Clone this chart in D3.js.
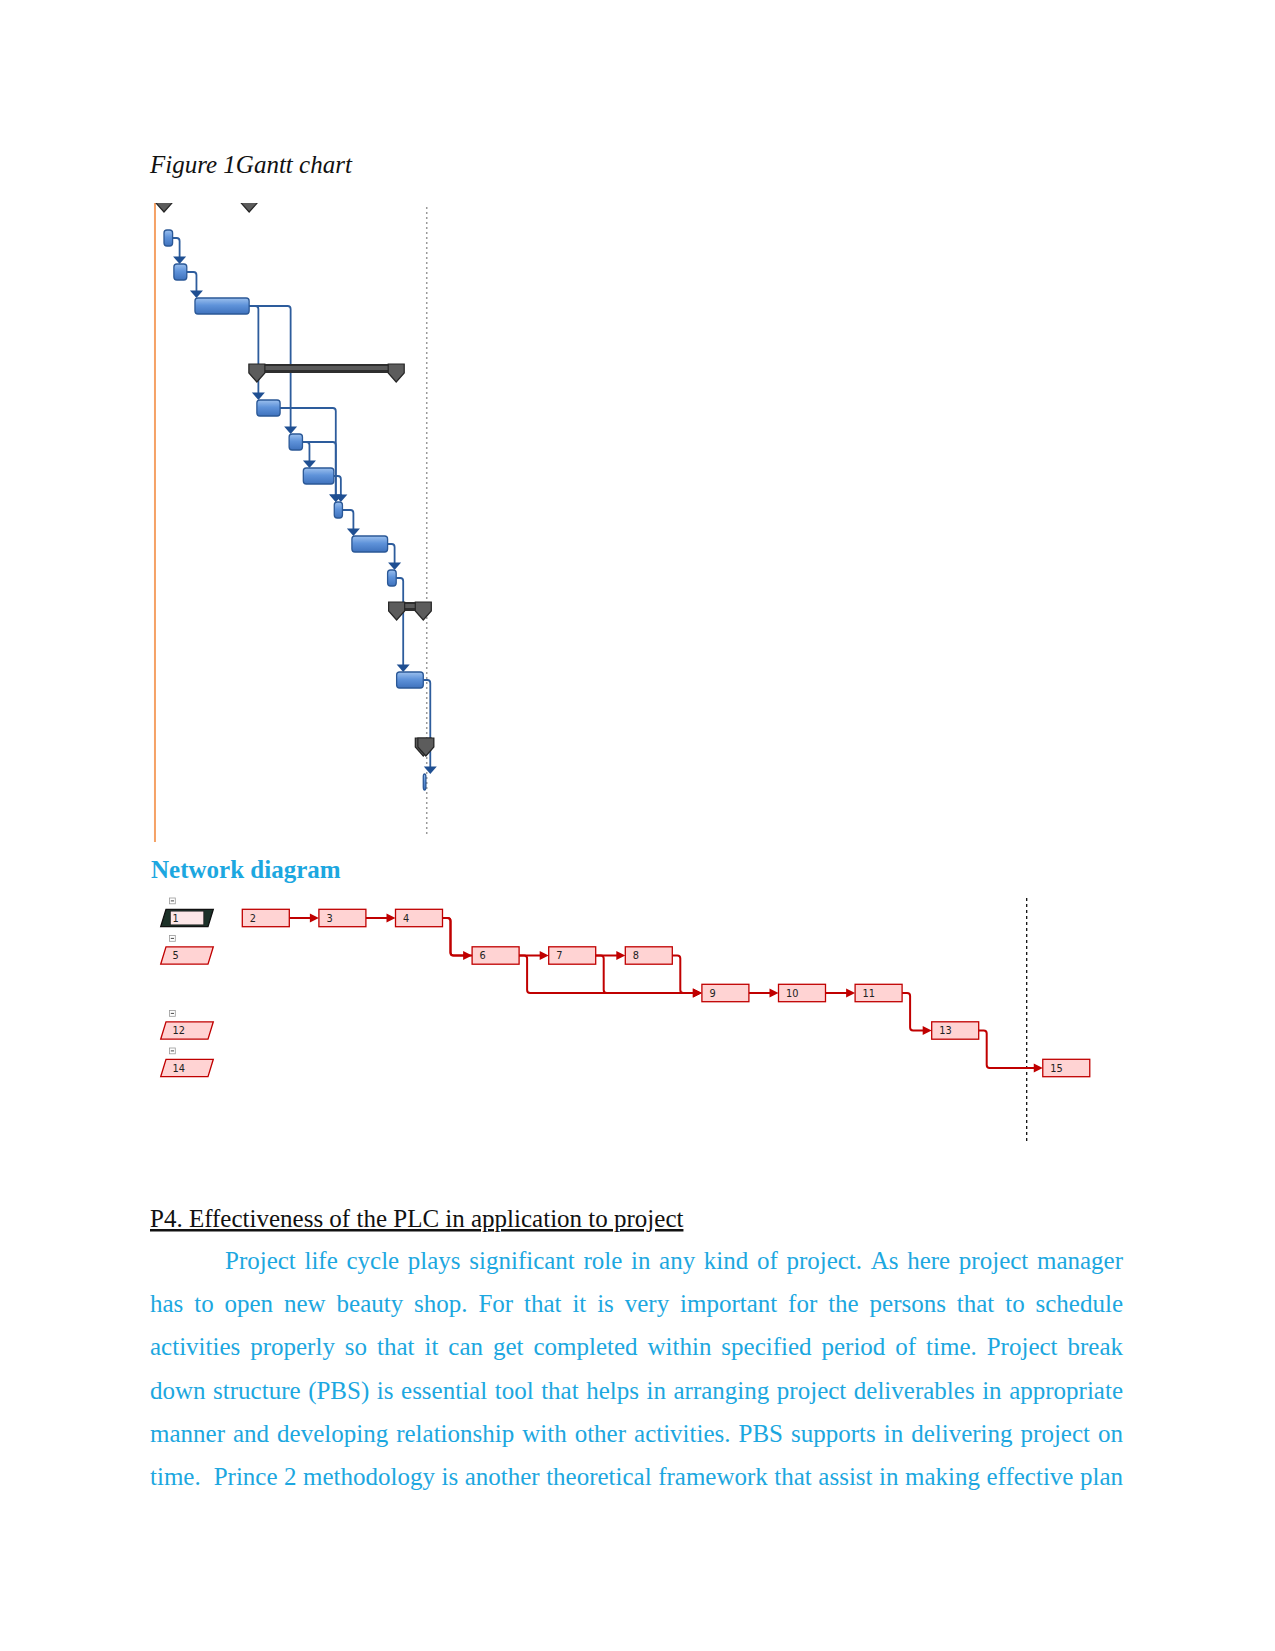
<!DOCTYPE html>
<html><head><meta charset="utf-8">
<script src="https://cdn.jsdelivr.net/npm/d3@7"></script>
<style>body{margin:0;background:#fff}svg{display:block}</style>
</head><body>
<svg id="page" width="1275" height="1651"></svg>
<script>
// ---------- Gantt data ----------
const ganttTasks       = ["2","3","4","6","7","8","9","10","11","13","15"];
const ganttTaskRows    = [0, 1, 2, 5, 6, 7, 8, 9, 10, 13, 16];
const ganttTaskStart   = [0, 2.3, 7.2, 21.6, 29.1, 32.4, 39.6, 43.7, 52.0, 54.1, 60.3];
const ganttTaskFinish  = [2, 5.3, 19.8, 27.0, 32.2, 39.5, 41.5, 52.0, 54.0, 60.3, 60.9];
const ganttSummaries      = ["1","5","12","14"];
const ganttSummaryRows    = [-1, 4, 11, 15];
const ganttSummaryStart   = [0, 21.6, 54.1, 60.3];
const ganttSummaryFinish  = [19.8, 54.0, 60.3, 60.9];
const links = [["2","3"],["3","4"],["4","6"],["4","7"],["6","9"],["7","8"],["7","9"],["8","9"],["9","10"],["10","11"],["11","13"],["13","15"]];
const projectStartDay = -2.1;
const statusDay = 61.1;

// ---------- Network data ----------
const netTasks     = ["2","3","4","6","7","8","9","10","11","13","15"];
const netTaskCols  = [0, 1, 2, 3, 4, 5, 6, 7, 8, 9, 10.45];
const netTaskRows  = [0, 0, 0, 1, 1, 1, 2, 2, 2, 3, 4];
const netSummaries    = ["1","5","12","14"];
const netSummaryRows  = [0, 1, 3, 4];
const netDateLineCol  = 10.24;

// ---------- Text ----------
const captionText = "Figure 1Gantt chart";
const networkTitle = "Network diagram";
const sectionTitle = "P4. Effectiveness of the PLC in application to project";
const paragraphLines = [
  "Project life cycle plays significant role in any kind of project. As here project manager",
  "has to open new beauty shop. For that it is very important for the persons that to schedule",
  "activities properly so that it can get completed within specified period of time. Project break",
  "down structure (PBS) is essential tool that helps in arranging project deliverables in appropriate",
  "manner and developing relationship with other activities. PBS supports in delivering project on",
  "time.  Prince 2 methodology is another theoretical framework that assist in making effective plan"
];

const svg = d3.select("#page");
svg.append("rect").attr("width",1275).attr("height",1651).attr("fill","#fff");
const defs = svg.append("defs");
const grad = defs.append("linearGradient").attr("id","barGrad").attr("x1",0).attr("y1",0).attr("x2",0).attr("y2",1);
grad.append("stop").attr("offset","0%").attr("stop-color","#9cc0ee");
grad.append("stop").attr("offset","45%").attr("stop-color","#5f93da");
grad.append("stop").attr("offset","100%").attr("stop-color","#3f72bd");
defs.append("clipPath").attr("id","ganttClip").append("rect").attr("x",140).attr("y",203).attr("width",320).attr("height",650);

const serif = "'Liberation Serif','Times New Roman',serif";
const textBlue = "#1ca7e0";

// caption
svg.append("text").attr("x",150).attr("y",173).attr("font-family",serif).attr("font-style","italic")
  .attr("font-size",25).attr("fill","#111").text(captionText);

// ---------- Gantt ----------
const gx = d3.scaleLinear().domain([0,60]).range([164, 422]);
const gy = d3.scaleLinear().domain([0,16]).range([238, 238+16*34]);
const G = svg.append("g").attr("clip-path","url(#ganttClip)");

G.append("line").attr("x1",gx(projectStartDay)).attr("x2",gx(projectStartDay)).attr("y1",203).attr("y2",842)
  .attr("stroke","#f5a266").attr("stroke-width",2);
G.append("line").attr("x1",gx(statusDay)).attr("x2",gx(statusDay)).attr("y1",207).attr("y2",837)
  .attr("stroke","#9a9a9a").attr("stroke-width",1.5).attr("stroke-dasharray","2,3");

const tIdx = id => ganttTasks.indexOf(id);
// links
const linkColor = "#2d5c9c";
links.forEach(([a,b]) => {
  const ia = tIdx(a), ib = tIdx(b);
  const pe = gx(ganttTaskFinish[ia]), py = gy(ganttTaskRows[ia]);
  const vx = Math.max(pe + 7, gx(ganttTaskStart[ib]) + 1.5);
  const top = gy(ganttTaskRows[ib]) - 8;
  G.append("path").attr("d",`M${pe},${py} H${vx-3} Q${vx},${py} ${vx},${py+3} V${top-6}`)
    .attr("fill","none").attr("stroke",linkColor).attr("stroke-width",1.8);
  G.append("path").attr("d",`M${vx-6.5},${top-7.5} L${vx+6.5},${top-7.5} L${vx},${top} Z`)
    .attr("fill","#1f4f92");
});
// task bars
G.selectAll("rect.task").data(ganttTasks).enter().append("rect").attr("class","task")
  .attr("x",(d,i)=>gx(ganttTaskStart[i]))
  .attr("width",(d,i)=>Math.max(2.5, gx(ganttTaskFinish[i])-gx(ganttTaskStart[i])))
  .attr("y",(d,i)=>gy(ganttTaskRows[i])-8).attr("height",16).attr("rx",3)
  .attr("fill","url(#barGrad)").attr("stroke","#2b5896").attr("stroke-width",1.3);
// summary bars
ganttSummaries.forEach((s,i) => {
  const yc = gy(ganttSummaryRows[i]);
  const xs = gx(ganttSummaryStart[i]), xf = gx(ganttSummaryFinish[i]);
  G.append("rect").attr("x",xs-8).attr("y",yc-10).attr("width",xf-xs+16).attr("height",9)
    .attr("fill","#2e2e2e");
  G.append("rect").attr("x",xs-6).attr("y",yc-8).attr("width",xf-xs+12).attr("height",4)
    .attr("fill","#5a5a5a");
  [xs, xf].forEach(cx => {
    G.append("path").attr("d",`M${cx-8},${yc-10} H${cx+8} V${yc-1} L${cx},${yc+8} L${cx-8},${yc-1} Z`)
      .attr("fill","#5c5c5c").attr("stroke","#262626").attr("stroke-width",1.2);
  });
});

// ---------- Network ----------
svg.append("text").attr("x",151).attr("y",878).attr("font-family",serif).attr("font-weight","bold")
  .attr("font-size",25).attr("fill",textBlue).text(networkTitle);

const nx = d3.scaleLinear().domain([0,1]).range([242.3, 318.9]);
const ny = d3.scaleLinear().domain([0,1]).range([909.3, 946.8]);
const BW = 47, BH = 17.4;
const netRed = "#c00000";
const N = svg.append("g");
N.append("line").attr("x1",nx(netDateLineCol)).attr("x2",nx(netDateLineCol)).attr("y1",898).attr("y2",1143)
  .attr("stroke","#111").attr("stroke-width",1.3).attr("stroke-dasharray","3,3");

const nIdx = id => netTasks.indexOf(id);
links.forEach(([a,b]) => {
  const ia = nIdx(a), ib = nIdx(b);
  const pr = nx(netTaskCols[ia]) + BW, py = ny(netTaskRows[ia]) + BH/2;
  const sl = nx(netTaskCols[ib]), sy = ny(netTaskRows[ib]) + BH/2;
  let d;
  if (netTaskRows[ia] === netTaskRows[ib]) d = `M${pr},${py} H${sl-8}`;
  else {
    const vx = pr + 8;
    d = `M${pr},${py} H${vx-3} Q${vx},${py} ${vx},${py+3} V${sy-3} Q${vx},${sy} ${vx+3},${sy} H${sl-8}`;
  }
  N.append("path").attr("d",d).attr("fill","none").attr("stroke",netRed).attr("stroke-width",2);
  N.append("path").attr("d",`M${sl-9},${sy-4.5} L${sl},${sy} L${sl-9},${sy+4.5} Z`).attr("fill",netRed);
});

const boxFont = "'DejaVu Sans',Verdana,sans-serif";
netTasks.forEach((t,i) => {
  const x0 = nx(netTaskCols[i]), y0 = ny(netTaskRows[i]);
  N.append("rect").attr("x",x0).attr("y",y0).attr("width",BW).attr("height",BH)
    .attr("fill","#ffd3d3").attr("stroke",netRed).attr("stroke-width",1.3);
  N.append("text").attr("x",x0+7.5).attr("y",y0+BH/2+3.6).attr("font-family",boxFont).attr("font-size",9.8)
    .attr("fill","#222").text(t);
});
netSummaries.forEach((s,i) => {
  const y0 = ny(netSummaryRows[i]);
  const sel = i === 0;
  // collapse box
  N.append("rect").attr("x",169.5).attr("y",y0-11.3).attr("width",5.8).attr("height",5.8)
    .attr("fill","#fff").attr("stroke","#9a9a9a").attr("stroke-width",0.8);
  N.append("line").attr("x1",170.8).attr("x2",174).attr("y1",y0-8.4).attr("y2",y0-8.4).attr("stroke","#333").attr("stroke-width",0.9);
  N.append("path").attr("d",`M166,${y0} H213.3 L208,${y0+BH} H160.7 Z`)
    .attr("fill", sel ? "#1d3229" : "#ffd3d3").attr("stroke", sel ? "#111" : netRed).attr("stroke-width",1.3);
  if (sel) {
    N.append("rect").attr("x",170.3).attr("y",y0+1.8).attr("width",33.5).attr("height",BH-3.6)
      .attr("fill","#fde8e8").attr("stroke","#222").attr("stroke-width",0.8);
  }
  N.append("text").attr("x",172.5).attr("y",y0+BH/2+3.6).attr("font-family",boxFont).attr("font-size",9.8)
    .attr("fill","#222").text(s);
});

// ---------- Section text ----------
svg.append("text").attr("x",150).attr("y",1227).attr("font-family",serif).attr("font-size",25)
  .attr("fill","#111").attr("text-decoration","underline").text(sectionTitle);

const left = 150, right = 1123, indent = 75, lineGap = 43.2, firstBase = 1269;
const measure = svg.append("text").attr("font-family",serif).attr("font-size",25).attr("visibility","hidden");
paragraphLines.forEach((line, li) => {
  const words = line.split(" ");
  const widths = words.map(w => { measure.text(w); return w ? measure.node().getComputedTextLength() : 0; });
  const x0 = left + (li === 0 ? indent : 0);
  const total = d3.sum(widths);
  const gap = (right - x0 - total) / (words.length - 1);
  const t = svg.append("text").attr("font-family",serif).attr("font-size",25).attr("fill",textBlue)
    .attr("y", firstBase + li*lineGap);
  let cx = x0;
  words.forEach((w,wi) => {
    if (w) t.append("tspan").attr("x",cx).text(w);
    cx += widths[wi] + gap;
  });
});
measure.remove();
</script>
</body></html>
